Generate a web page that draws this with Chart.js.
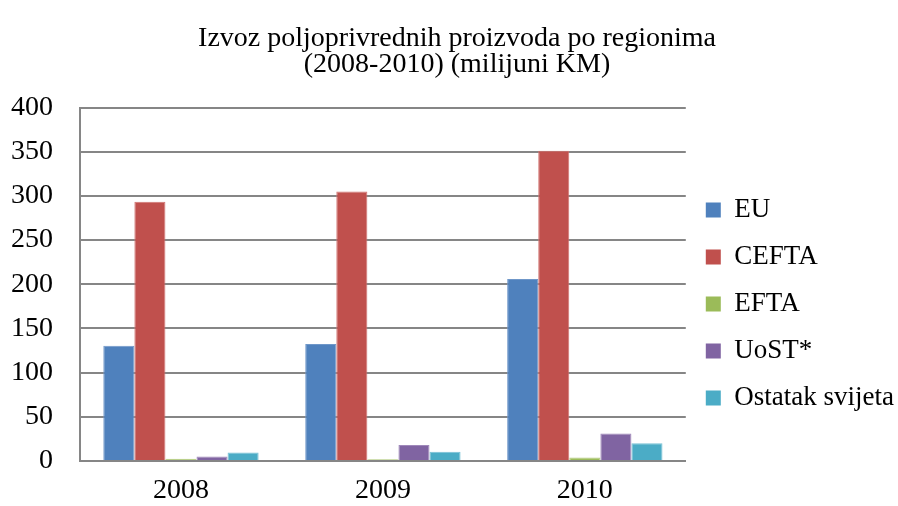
<!DOCTYPE html>
<html>
<head>
<meta charset="utf-8">
<script src="https://cdn.jsdelivr.net/npm/chart.js@4"></script>
<style>
    html, body { margin: 0; padding: 0; background: #fff; }
    #wrap { width: 898px; height: 506px; }
</style>
</head>
<body>
<div id="wrap"><canvas id="Izvoz"></canvas></div>
<script>
const godine = ['2008', '2009', '2010'];

const eu = [130.5, 132.5, 206];
const cefta = [293.5, 305, 351];
const efta = [2.5, 2, 4];
const uost = [5, 18, 31];
const ostatak = [9.5, 10.5, 20];

const naslov = ['Izvoz poljoprivrednih proizvoda po regionima', '(2008-2010) (milijuni KM)'];

const font = 'Liberation Serif';

function serija(label, boja, rub, data) {
    return {
        label: label,
        data: data,
        backgroundColor: boja,
        borderColor: rub,
        borderWidth: 1,
        borderSkipped: 'bottom',
    };
}

const dataRegioni = {
    labels: godine,
    datasets: [
        serija('EU', '#4F81BD', '#6F97C9', eu),
        serija('CEFTA', '#C0504D', '#D27471', cefta),
        serija('EFTA', '#9BBB59', '#B3CC80', efta),
        serija('UoST*', '#8064A2', '#9F88BA', uost),
        serija('Ostatak svijeta', '#4BACC6', '#78C1D5', ostatak),
    ]
};

const config = {
    type: 'bar',
    data: dataRegioni,
    options: {
        responsive: true,
        maintainAspectRatio: false,
        animation: false,
        layout: { padding: { left: 10, right: -6, top: 26, bottom: 4 } },
        datasets: {
            bar: { categoryPercentage: 5 / 6.5, barPercentage: 1 }
        },
        plugins: {
            title: {
                display: true,
                text: naslov,
                color: '#000',
                font: { family: font, size: 28, weight: 'normal', lineHeight: 0.92 },
                padding: { top: 0, bottom: 30 }
            },
            legend: {
                position: 'right',
                title: {
                    display: true,
                    text: ' ',
                    font: { size: 10, lineHeight: 1.2 },
                    padding: { top: 0, bottom: 68 }
                },
                labels: {
                    color: '#000',
                    font: { family: font, size: 27 },
                    boxWidth: 15,
                    boxHeight: 15,
                    padding: 20,
                    generateLabels: function (chart) {
                        return chart.data.datasets.map((ds, i) => ({
                            text: ds.label,
                            fillStyle: ds.backgroundColor,
                            strokeStyle: ds.backgroundColor,
                            lineWidth: 0,
                            datasetIndex: i,
                            fontColor: '#000'
                        }));
                    }
                }
            },
            tooltip: { enabled: false }
        },
        scales: {
            x: {
                grid: { display: false, drawTicks: false },
                border: { color: '#868686', width: 2 },
                ticks: { color: '#000', font: { family: font, size: 28, lineHeight: 1.0 }, padding: 16 },
                afterFit: function (scale) { scale.height = 41; }
            },
            y: {
                min: 0,
                max: 400,
                ticks: { stepSize: 50, color: '#000', font: { family: font, size: 28 }, padding: 27 },
                grid: { color: '#868686', lineWidth: 2, drawTicks: false },
                border: { color: '#868686', width: 2 },
                afterFit: function (scale) { scale.width = 70; }
            }
        }
    }
};

const myChart = new Chart(document.getElementById('Izvoz'), config);
</script>
</body>
</html>
